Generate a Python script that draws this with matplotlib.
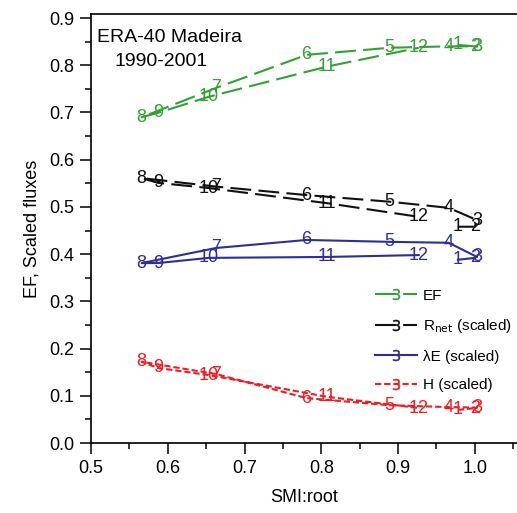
import matplotlib
matplotlib.use("Agg")
import matplotlib.pyplot as plt
from matplotlib.lines import Line2D
from matplotlib.ticker import MultipleLocator

plt.rcParams['font.family'] = ['Liberation Sans', 'DejaVu Sans']

months = ['1', '2', '3', '4', '5', '6', '7', '8', '9', '10', '11', '12']
smi = [0.978, 1.000, 1.003, 0.966, 0.889, 0.781, 0.663, 0.566, 0.587, 0.653, 0.807, 0.927]
ef = [0.843, 0.840, 0.840, 0.840, 0.837, 0.822, 0.752, 0.690, 0.699, 0.733, 0.797, 0.837]
rnet = [0.458, 0.458, 0.472, 0.498, 0.511, 0.525, 0.543, 0.561, 0.551, 0.540, 0.508, 0.479]
le = [0.388, 0.392, 0.394, 0.424, 0.426, 0.430, 0.413, 0.381, 0.381, 0.392, 0.394, 0.398]
h = [0.070, 0.074, 0.075, 0.076, 0.080, 0.095, 0.146, 0.172, 0.159, 0.144, 0.098, 0.074]

series = [
    (ef, '#33a033', (0, (10, 3.5)), 'EF'),
    (rnet, '#111111', (0, (10, 3.5)), r'R$_{\mathrm{net}}$ (scaled)'),
    (le, '#2e2e96', '-', 'λE (scaled)'),
    (h, '#ee1c24', (0, (3, 1.4)), 'H (scaled)'),
]

fig = plt.figure(figsize=(5.17, 5.13), dpi=100)
ax = fig.add_axes([91/517, 1-443/513, 1-91/517, (443-14)/513])
ax.set_xlim(0.5, 1.055)
ax.set_ylim(0.0, 0.9085)

handles = []
for vals, col, ls, lab in series:
    ax.plot(smi, vals, color=col, linestyle=ls, linewidth=1.5)
    for xm, ym, t in zip(smi, vals, months):
        ax.text(xm, ym, t, color=col, fontsize=13, ha='center', va='center')
    handles.append(Line2D([], [], color=col, linestyle=ls, linewidth=1.5,
                          marker='$3$', markersize=8, markeredgewidth=0.3))

ax.spines['right'].set_visible(False)
for sp in ax.spines.values():
    sp.set_linewidth(1.2)
ax.xaxis.set_major_locator(MultipleLocator(0.1))
ax.xaxis.set_minor_locator(MultipleLocator(0.05))
ax.yaxis.set_major_locator(MultipleLocator(0.1))
ax.yaxis.set_minor_locator(MultipleLocator(0.05))
ax.tick_params(which='major', direction='out', length=8, width=1.1, labelsize=13, pad=4)
ax.tick_params(which='minor', direction='out', length=4, width=1.1)
ax.set_xticks([0.5, 0.6, 0.7, 0.8, 0.9, 1.0])
ax.set_xticklabels(['0.5', '0.6', '0.7', '0.8', '0.9', '1.0'])
ax.set_yticks([0.0, 0.1, 0.2, 0.3, 0.4, 0.5, 0.6, 0.7, 0.8, 0.9])
ax.set_yticklabels(['0.0', '0.1', '0.2', '0.3', '0.4', '0.5', '0.6', '0.7', '0.8', '0.9'])

ax.set_xlabel('SMI:root', fontsize=13, labelpad=9)
ax.set_ylabel('EF, Scaled fluxes', fontsize=13, labelpad=6)

fig.text(97/517, 1-38/513, 'ERA-40 Madeira', fontsize=14, ha='left', va='center')
fig.text(115/517, 1-62/513, '1990-2001', fontsize=14, ha='left', va='center')

ax.legend(handles, [s[3] for s in series], loc='upper left',
          bbox_to_anchor=(367/517, 1-281/513), bbox_transform=fig.transFigure,
          frameon=False, fontsize=11, handlelength=2.75, handletextpad=0.4,
          labelspacing=0.95, borderpad=0)

fig.savefig('out.png', dpi=100)
